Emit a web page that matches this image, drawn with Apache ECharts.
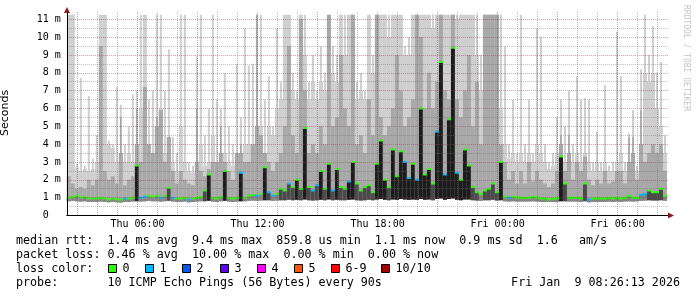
<!DOCTYPE html>
<html><head><meta charset="utf-8">
<script src="https://cdn.jsdelivr.net/npm/echarts@6/dist/echarts.min.js"></script>
<style>html,body{margin:0;padding:0;background:#fff}#c{width:697px;height:297px}</style>
</head><body><div id="c"></div>
<script>
// time axis: minutes since Thu 00:00, one column every 12 minutes from Thu 02:28
const startMin = 148;
const stepMin = 12;
const axisMin = 148, axisMax = 1951;

// highest ping (thin light spike top), ms
const maxRtt = [
11.25,11.25,2.9,7.7,2.8,6.7,3.2,4.5,11.25,11.25,4.2,4.0,7.2,6.2,4.0,5.0,6.8,7.0,11.25,11.25,6.5,7.0,11.25,11.25,7.0,
9.3,4.4,3.5,11.25,11.25,3.0,2.8,8.9,11.25,4.5,6.0,11.25,6.5,6.0,8.0,5.0,4.0,8.5,5.5,10.5,8.4,8.5,11.25,11.25,6.5,
7.8,5.0,10.5,7.5,11.25,11.25,8.0,7.0,11.25,11.25,7.5,9.0,7.0,9.5,8.0,11.25,9.5,9.0,11.25,11.25,11.25,11.25,7.5,8.0,7.0,
11.25,9.0,11.25,11.25,11.25,11.25,11.25,11.25,11.25,9.5,10.0,11.25,11.25,11.25,11.25,11.25,11.25,11.25,11.25,11.25,11.25,11.25,11.25,11.25,11.25,
11.25,11.25,11.25,9.0,11.25,11.25,11.25,11.25,11.25,9.5,4.0,6.5,3.5,11.25,4.0,6.5,3.5,10.5,10.0,4.0,3.0,3.5,5.5,6.5,5.0,
7.0,4.0,7.8,6.5,6.6,6.5,3.0,4.7,3.0,7.3,2.8,3.0,10.3,7.8,3.0,4.6,5.9,2.8,8.2,11.25,9.0,10.6,8.0,8.6,4.5
];
// upper edge of the continuous light smoke, ms
const bodyRtt = [
11.25,11.25,2.7,2.5,2.6,2.5,2.6,3.0,11.25,11.25,4.0,3.8,3.0,3.5,3.0,3.5,3.0,4.0,6.0,11.25,4.0,3.5,5.0,6.0,3.5,
4.4,3.0,2.5,5.0,3.0,2.5,2.4,3.0,4.0,2.8,3.0,4.5,3.0,3.5,3.5,3.0,2.8,3.5,3.5,4.0,4.0,4.0,5.0,5.0,3.5,
5.0,4.5,6.0,6.5,11.25,11.25,7.0,6.5,11.25,9.0,6.5,7.5,6.5,7.5,7.0,11.25,8.0,7.5,11.25,9.0,11.25,11.25,6.5,7.0,6.5,
11.25,8.0,11.25,11.25,11.25,10.0,11.25,11.25,11.25,9.0,9.0,11.25,11.25,11.25,11.25,11.25,10.5,11.25,11.25,11.25,11.25,11.25,11.0,11.25,11.25,
11.25,11.25,9.0,7.0,11.25,11.25,11.25,11.25,6.0,4.0,3.2,3.5,3.0,3.5,3.0,3.5,3.0,4.0,3.5,3.0,2.6,2.8,3.5,4.0,3.0,
3.5,3.0,3.5,3.0,3.5,3.0,2.5,3.0,2.5,3.0,2.5,2.5,3.0,3.5,2.5,3.0,3.5,2.5,4.0,8.0,7.5,8.0,6.0,5.0,3.5
];
// upper edge of the mid smoke band, ms
const highRtt = [
2.2,1.8,1.5,1.6,1.5,2.0,1.7,2.0,9.5,2.5,2.0,2.2,1.8,5.5,1.7,2.0,2.2,6.0,3.0,7.2,4.0,3.5,5.5,5.9,3.0,
4.4,2.5,1.8,2.5,2.0,1.8,1.7,6.0,2.5,2.2,2.6,3.0,3.0,5.0,3.0,2.5,2.0,3.5,4.0,3.0,3.0,4.0,11.25,4.5,3.5,
3.0,2.5,3.0,3.5,5.0,9.5,4.5,3.5,11.0,7.0,3.5,4.0,3.5,5.0,4.0,11.25,5.0,5.5,9.0,6.0,5.0,11.25,4.0,4.5,3.5,
6.5,4.5,11.25,5.5,4.5,5.0,6.0,9.0,7.0,5.0,5.5,6.5,11.25,10.0,6.0,8.0,6.0,7.5,11.25,7.0,6.5,11.25,6.5,5.5,7.0,
9.0,5.0,7.5,4.0,11.25,11.25,11.25,11.25,4.0,3.0,2.0,2.5,1.8,2.5,1.8,3.0,1.9,2.5,2.0,1.8,1.6,1.8,2.5,4.5,2.5,
4.5,2.0,3.0,2.5,3.3,2.0,1.7,2.0,1.8,2.5,1.8,1.9,2.5,2.5,1.8,4.4,4.4,2.0,5.9,3.0,3.5,4.0,3.5,4.0,2.5
];
// median rtt, ms
const medianRtt = [
1.0,1.05,1.1,1.0,1.05,0.95,0.95,0.95,1.0,0.95,0.9,0.95,0.9,0.9,0.95,0.95,1.0,2.8,1.0,1.05,1.1,1.05,1.1,1.0,1.1,
1.55,1.0,0.95,0.95,1.0,0.9,0.95,1.0,1.05,1.4,2.3,1.0,0.95,1.05,2.5,1.0,0.95,1.0,2.4,1.0,1.1,1.15,1.1,1.2,2.7,
1.3,1.1,1.2,1.5,1.4,1.8,1.6,2.0,1.5,4.9,1.6,1.4,1.7,2.5,1.5,2.9,1.4,2.6,1.6,1.5,1.9,3.0,1.8,1.4,1.6,
1.7,1.3,2.9,4.2,2.0,1.6,3.7,2.2,3.6,3.0,2.1,2.9,2.0,6.0,2.3,2.6,1.8,4.7,8.6,2.3,5.4,9.4,2.4,2.0,3.7,
2.8,1.6,1.3,1.2,1.4,1.5,1.8,1.3,3.0,1.05,1.0,1.05,1.0,1.0,1.0,1.0,1.05,1.0,0.95,0.95,0.9,0.95,0.95,3.3,1.8,
1.0,1.0,1.0,0.95,1.8,0.9,0.95,0.95,0.95,0.95,1.0,0.95,1.0,0.95,1.0,1.1,1.0,1.0,1.15,1.2,1.4,1.3,1.3,1.5,1.1
];
// lowest ping (bottom of smoke), ms
const minRtt = [
0.8,0.82,0.8,0.78,0.8,0.76,0.75,0.76,0.78,0.75,0.74,0.76,0.74,0.73,0.75,0.76,0.78,0.8,0.78,0.8,0.82,0.8,0.8,0.78,0.8,
0.82,0.78,0.76,0.76,0.78,0.74,0.75,0.78,0.8,0.8,0.82,0.78,0.76,0.8,0.82,0.78,0.76,0.78,0.8,0.8,0.82,0.84,0.82,0.84,0.85,
0.85,0.82,0.84,0.86,0.85,0.88,0.86,0.88,0.85,0.9,0.86,0.84,0.86,0.88,0.85,0.9,0.85,0.88,0.86,0.85,0.88,0.9,0.86,0.84,0.86,
0.88,0.85,0.9,0.92,0.88,0.86,0.9,0.88,0.92,0.9,0.88,0.9,0.88,0.92,0.88,0.9,0.86,0.92,0.95,0.88,0.92,0.95,0.88,0.86,0.9,
0.9,0.86,0.84,0.82,0.85,0.86,0.88,0.84,0.86,0.8,0.78,0.8,0.78,0.78,0.78,0.78,0.8,0.78,0.76,0.76,0.75,0.76,0.76,0.8,0.8,
0.78,0.78,0.78,0.76,0.8,0.74,0.76,0.76,0.76,0.76,0.78,0.76,0.78,0.76,0.78,0.8,0.78,0.8,0.82,0.84,0.85,0.84,0.84,0.86,0.82
];
// lost pings per column (of 10)
const lossCount = [
0,0,0,0,0,0,0,0,0,0,0,0,0,0,1,0,0,0,1,1,0,0,0,1,0,
0,1,0,0,0,1,0,0,0,0,0,0,0,0,0,0,0,0,1,0,0,0,1,0,0,
1,1,0,0,0,1,0,0,0,0,0,1,1,0,0,0,1,0,0,0,1,0,0,0,0,
0,0,0,0,0,0,0,0,0,1,1,0,1,0,0,0,0,1,0,1,0,0,1,0,0,
0,0,0,0,0,0,0,0,0,0,1,0,0,0,0,0,0,0,0,0,0,0,0,0,0,
0,0,0,0,0,1,0,0,0,0,0,0,0,0,0,0,0,0,1,1,0,0,0,0,0
];

const lossColors = ['#26ff00','#00b8ff','#0059ff','#5e00ff','#ff00ff','#ff5500','#ff0000','#a00000'];
const lossLabels = ['0','1','2','3','4','5','6-9','10/10'];

// vertical grid: every hour from Thu 03:00 to Fri 08:00, major every 3 hours
const hourTicks = [];
for (let h = 3; h <= 32; h++) hourTicks.push(h * 60);
const xLabelValues = [360, 720, 1080, 1440, 1800];
const xLabelTexts = ['Thu 06:00', 'Thu 12:00', 'Thu 18:00', 'Fri 00:00', 'Fri 06:00'];

const statLines = [
  'median rtt:  1.4 ms avg  9.4 ms max  859.8 us min  1.1 ms now  0.9 ms sd  1.6   am/s',
  'packet loss: 0.46 % avg  10.00 % max  0.00 % min  0.00 % now',
  'loss color:',
  'probe:       10 ICMP Echo Pings (56 Bytes) every 90s'
];
const stampText = 'Fri Jan  9 08:26:13 2026';

const data = maxRtt.map((v, i) => [startMin + i * stepMin, minRtt[i], medianRtt[i], highRtt[i], bodyRtt[i], v, lossCount[i]]);

function renderItem(params, api) {
  const t = api.value(0);
  const mn = api.value(1);
  const pMn = api.coord([t, mn]);
  const x0 = pMn[0];
  const x1 = api.coord([t + stepMin, 0])[0];
  const w = x1 - x0;
  const yMn = pMn[1];
  const md = api.value(2), hi = api.value(3), body = api.value(4), mx = api.value(5);
  const yMd = api.coord([t, md])[1];
  const yHi = api.coord([t, hi])[1];
  const yBody = api.coord([t, body])[1];
  const yMx = api.coord([t, mx])[1];
  const yHiBody = api.coord([t, Math.min(hi, body)])[1];
  const loss = api.value(6);
  const kids = [];
  if (mx > body) kids.push({type: 'rect', shape: {x: x0 + w * 0.25, y: yMx, width: w * 0.5, height: yBody - yMx}, style: {fill: '#cfcfcf'}});
  kids.push({type: 'rect', shape: {x: x0, y: yBody, width: w, height: yMn - yBody}, style: {fill: '#cfcfcf'}});
  if (hi > body) kids.push({type: 'rect', shape: {x: x0 + w * 0.375, y: yHi, width: w * 0.25, height: yHiBody - yHi}, style: {fill: '#8f8f8f'}});
  kids.push({type: 'rect', shape: {x: x0, y: yHiBody, width: w, height: yMn - yHiBody}, style: {fill: '#a8a8a8'}});
  const rise = md - mn;
  kids.push({type: 'rect', shape: {x: x0, y: yMd, width: w, height: yMn - yMd}, style: {fill: rise > 1.0 ? '#1c1c1c' : (rise > 0.45 ? '#4a4a4a' : '#858585')}});
  kids.push({type: 'rect', shape: {x: x0, y: yMd - 1, width: w, height: 2}, style: {fill: lossColors[loss]}});
  return {type: 'group', children: kids};
}

const redGrid = 'rgba(235,30,30,0.5)';
const grayGrid = 'rgba(110,110,110,0.45)';

function renderHourLine(params, api) {
  const v = api.value(0);
  const a = api.coord([v, 0]);
  const b = api.coord([v, 11.5]);
  // snap to the pixel grid so the dots stay crisp
  const x = Math.round(a[0] - 0.5) + 0.5;
  return {type: 'line', shape: {x1: x, y1: Math.floor(a[1]), x2: x, y2: Math.ceil(b[1])},
    style: {stroke: (v % 180 === 0) ? redGrid : grayGrid, lineWidth: 1, lineDash: [1, 1]}};
}

const mono = '"DejaVu Sans Mono", monospace';
const legendFont = '11.7px ' + mono;
const lineY = [241, 255, 269, 283];
const boxX = [108, 145, 182, 220, 257, 294, 331, 381];

const graphics = [];
statLines.forEach((s, i) => {
  graphics.push({type: 'text', x: 16, y: lineY[i], style: {text: s, font: legendFont, fill: '#000', textAlign: 'left', textVerticalAlign: 'middle'}});
});
lossLabels.forEach((l, i) => {
  graphics.push({type: 'rect', shape: {x: boxX[i] + 0.5, y: lineY[2] - 4.5, width: 8, height: 8}, style: {fill: lossColors[i], stroke: '#000', lineWidth: 1}});
  graphics.push({type: 'text', x: boxX[i] + 14.5, y: lineY[2], style: {text: l, font: legendFont, fill: '#000', textAlign: 'left', textVerticalAlign: 'middle'}});
});
graphics.push({type: 'text', x: 680, y: lineY[3], style: {text: stampText, font: legendFont, fill: '#000', textAlign: 'right', textVerticalAlign: 'middle'}});
graphics.push({type: 'text', x: 686, y: 5, rotation: -Math.PI / 2, style: {text: 'RRDTOOL / TOBI OETIKER', font: '8px ' + mono, fill: '#c4c4c4', textAlign: 'left', textVerticalAlign: 'middle'}});
graphics.push({type: 'polygon', shape: {points: [[64, 13], [70, 13], [67, 7]]}, style: {fill: '#8b1a1a'}, z: 10});
graphics.push({type: 'polygon', shape: {points: [[668, 212.5], [668, 218.5], [674, 215.5]]}, style: {fill: '#8b1a1a'}, z: 10});

const chart = echarts.init(document.getElementById('c'));
chart.setOption({
  animation: false,
  backgroundColor: '#fff',
  grid: {left: 66.83, right: 29, top: 10.3, bottom: 81.5, outerBoundsMode: 'none'},
  xAxis: {
    type: 'value', min: axisMin, max: axisMax, z: 4,
    axisLine: {lineStyle: {color: '#000', width: 1}},
    axisTick: {show: false},
    axisLabel: {
      customValues: xLabelValues, margin: 4,
      fontFamily: mono, fontSize: 10, color: '#000',
      formatter: v => { const k = xLabelValues.indexOf(v); return k >= 0 ? xLabelTexts[k] : ''; }
    },
    splitLine: {show: false}
  },
  yAxis: {
    type: 'value', min: 0, max: 11.5, interval: 0.5, z: 3,
    name: 'Seconds', nameLocation: 'middle', nameGap: 56,
    nameTextStyle: {fontFamily: '"DejaVu Sans", sans-serif', fontSize: 11, color: '#000'},
    axisLine: {show: true, lineStyle: {color: '#000', width: 1}},
    axisTick: {show: false},
    axisLabel: {
      margin: 6, fontFamily: mono, fontSize: 10, color: '#000', interval: 0,
      formatter: v => (Math.abs(v - Math.round(v)) > 1e-6 ? '' : (v === 0 ? '0  ' : Math.round(v) + ' m'))
    },
    splitLine: {show: true, showMaxLine: false, lineStyle: {type: [1, 1], width: 1, color: [redGrid, grayGrid]}}
  },
  series: [{
    type: 'custom', renderItem: renderItem, data: data, clip: true, z: 2,
    encode: {x: 0, y: [1, 2, 3, 4, 5]}
  }, {
    type: 'custom', renderItem: renderHourLine, data: hourTicks.map(v => [v, 0]), z: 3,
    encode: {x: 0, y: 1}
  }],
  graphic: graphics
});
</script></body></html>
